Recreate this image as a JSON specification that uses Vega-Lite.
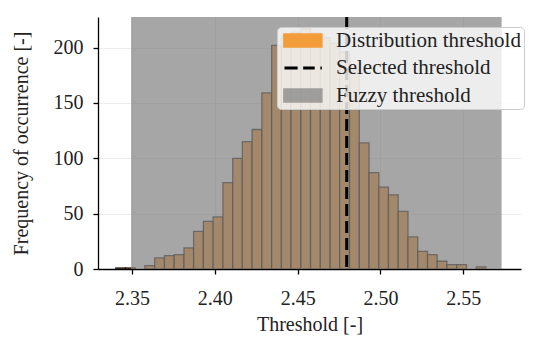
{
  "$schema": "https://vega.github.io/schema/vega-lite/v6.json",
  "autosize": {"type": "none"},
  "width": 423,
  "height": 252,
  "padding": {"left": 98, "top": 17, "right": 13, "bottom": 72},
  "background": "white",
  "config": {
    "view": {"stroke": null},
    "font": "Liberation Serif",
    "axis": {
      "labelFont": "Liberation Serif",
      "titleFont": "Liberation Serif",
      "labelFontSize": 20,
      "titleFontSize": 20,
      "titleFontWeight": "normal",
      "labelColor": "#222222",
      "titleColor": "#222222",
      "domainColor": "#000000",
      "domainWidth": 1.3,
      "tickColor": "#000000",
      "tickWidth": 1.3,
      "tickSize": 5,
      "gridColor": "#ececec",
      "gridWidth": 1.2
    }
  },
  "layer": [
    {
      "data": {"values": [
        {"bin0": 2.3402, "bin1": 2.3461, "count": 1},
        {"bin0": 2.3461, "bin1": 2.3520, "count": 1},
        {"bin0": 2.3578, "bin1": 2.3637, "count": 3},
        {"bin0": 2.3637, "bin1": 2.3696, "count": 10},
        {"bin0": 2.3696, "bin1": 2.3755, "count": 12},
        {"bin0": 2.3755, "bin1": 2.3814, "count": 13},
        {"bin0": 2.3814, "bin1": 2.3872, "count": 19},
        {"bin0": 2.3872, "bin1": 2.3931, "count": 34},
        {"bin0": 2.3931, "bin1": 2.3990, "count": 43},
        {"bin0": 2.3990, "bin1": 2.4049, "count": 47},
        {"bin0": 2.4049, "bin1": 2.4108, "count": 78},
        {"bin0": 2.4108, "bin1": 2.4166, "count": 100},
        {"bin0": 2.4166, "bin1": 2.4225, "count": 115},
        {"bin0": 2.4225, "bin1": 2.4284, "count": 126},
        {"bin0": 2.4284, "bin1": 2.4343, "count": 159},
        {"bin0": 2.4343, "bin1": 2.4402, "count": 202},
        {"bin0": 2.4402, "bin1": 2.4460, "count": 210},
        {"bin0": 2.4460, "bin1": 2.4519, "count": 214},
        {"bin0": 2.4519, "bin1": 2.4578, "count": 217},
        {"bin0": 2.4578, "bin1": 2.4637, "count": 213},
        {"bin0": 2.4637, "bin1": 2.4696, "count": 209},
        {"bin0": 2.4696, "bin1": 2.4754, "count": 204},
        {"bin0": 2.4754, "bin1": 2.4813, "count": 196},
        {"bin0": 2.4813, "bin1": 2.4872, "count": 180},
        {"bin0": 2.4872, "bin1": 2.4931, "count": 114},
        {"bin0": 2.4931, "bin1": 2.4990, "count": 87},
        {"bin0": 2.4990, "bin1": 2.5048, "count": 74},
        {"bin0": 2.5048, "bin1": 2.5107, "count": 67},
        {"bin0": 2.5107, "bin1": 2.5166, "count": 52},
        {"bin0": 2.5166, "bin1": 2.5225, "count": 29},
        {"bin0": 2.5225, "bin1": 2.5284, "count": 16},
        {"bin0": 2.5284, "bin1": 2.5342, "count": 13},
        {"bin0": 2.5342, "bin1": 2.5401, "count": 7},
        {"bin0": 2.5401, "bin1": 2.5460, "count": 4},
        {"bin0": 2.5460, "bin1": 2.5519, "count": 4},
        {"bin0": 2.5578, "bin1": 2.5636, "count": 2}
      ]},
      "mark": {"type": "bar", "stroke": "#000000", "strokeWidth": 1.3, "strokeOpacity": 0.75},
      "encoding": {
        "x": {
          "field": "bin0", "type": "quantitative",
          "scale": {"domain": [2.3295, 2.5848], "nice": false, "zero": false},
          "axis": {
            "title": "Threshold [-]",
            "values": [2.35, 2.40, 2.45, 2.50, 2.55],
            "format": ".2f",
            "labelPadding": 14,
            "titlePadding": 6,
            "grid": true
          }
        },
        "x2": {"field": "bin1"},
        "y": {
          "field": "count", "type": "quantitative",
          "scale": {"domain": [0, 227.6], "nice": false},
          "axis": {
            "title": "Frequency of occurrence [-]",
            "values": [0, 50, 100, 150, 200],
            "labelPadding": 10,
            "titlePadding": 22,
            "grid": true
          }
        },
        "y2": {"datum": 0},
        "color": {
          "datum": "Distribution threshold",
          "scale": {
            "domain": ["Distribution threshold", "Selected threshold", "Fuzzy threshold"],
            "range": ["#f39c3a", "#000000", "#808080"]
          },
          "legend": {
            "title": null,
            "orient": "none",
            "legendX": 179,
            "legendY": 10,
            "labelFont": "Liberation Serif",
            "labelFontSize": 21,
            "labelColor": "#222222",
            "labelLimit": 400,
            "symbolSize": 484,
            "labelOffset": 35,
            "rowPadding": 5.5,
            "padding": 3,
            "fillColor": "rgba(255,255,255,0.8)",
            "strokeColor": "#cccccc",
            "cornerRadius": 4,
            "symbolType": {"expr": "datum.value === 'Selected threshold' ? 'M-0.55,0L0.65,0M1.15,0L2.2,0M2.72,0L2.85,0' : 'M-0.6,-0.6L2.85,-0.6L2.85,0.6L-0.6,0.6Z'"},
            "symbolStrokeWidth": {"expr": "datum.value === 'Selected threshold' ? 3 : 1.5"},
            "symbolOpacity": {"expr": "datum.value === 'Fuzzy threshold' ? 0.7 : 1"}
          }
        }
      }
    },
    {
      "data": {"values": [{"start": 2.3495, "end": 2.5731}]},
      "mark": {"type": "rect", "opacity": 0.7},
      "encoding": {
        "x": {"field": "start", "type": "quantitative"},
        "x2": {"field": "end"},
        "color": {"datum": "Fuzzy threshold"}
      }
    },
    {
      "data": {"values": [{"threshold": 2.4796}]},
      "mark": {"type": "rule", "strokeWidth": 3, "strokeDash": [12, 5]},
      "encoding": {
        "x": {"field": "threshold", "type": "quantitative"},
        "color": {"datum": "Selected threshold"}
      }
    }
  ]
}
